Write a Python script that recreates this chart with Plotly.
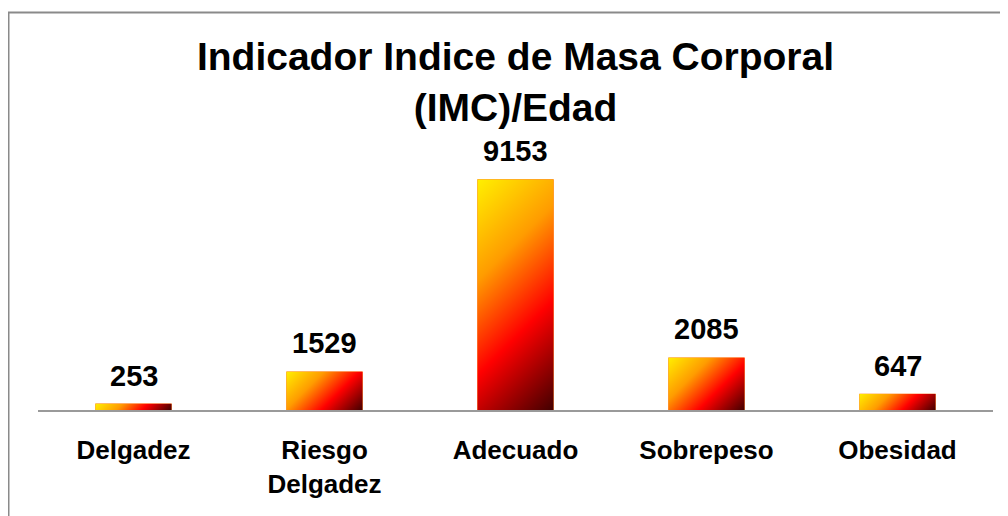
import base64
import plotly.graph_objects as go

categories = ["Delgadez", "Riesgo<br>Delgadez", "Adecuado", "Sobrepeso", "Obesidad"]
values = [253, 1529, 9153, 2085, 647]
value_labels = [str(v) for v in values]

# page offset (the browser page adds an 8px body margin)
OFF = 8
W, H = 1008, 516
PLOT_L, PLOT_T, PLOT_W, PLOT_H = 38, 158, 955, 252
ML = PLOT_L - OFF
MT = PLOT_T - OFF
MR = W - ML - PLOT_W
MB = H - MT - PLOT_H
BAR_W = 0.4
Y_MAX = 10000
FONT = "Arial, Liberation Sans, sans-serif"

STOPS = [(0.0, "#FFF000"), (0.33, "#FF9C00"), (0.64, "#FF0000"), (1.0, "#420000")]


def gradient_src(wpx, hpx):
    # 45-degree linear gradient in real pixel space, spanning the box corner to corner
    e = (wpx + hpx) / 2.0
    stops = "".join(f'<stop offset="{o}" stop-color="{c}"/>' for o, c in STOPS)
    svg = (
        f'<svg xmlns="http://www.w3.org/2000/svg" width="{wpx:.2f}" height="{hpx:.2f}" '
        f'viewBox="0 0 {wpx:.2f} {hpx:.2f}" preserveAspectRatio="none">'
        f'<defs><linearGradient id="g" gradientUnits="userSpaceOnUse" '
        f'x1="0" y1="0" x2="{e:.2f}" y2="{e:.2f}">{stops}</linearGradient></defs>'
        f'<rect x="0" y="0" width="{wpx:.2f}" height="{hpx:.2f}" fill="url(#g)"/></svg>'
    )
    return "data:image/svg+xml;base64," + base64.b64encode(svg.encode()).decode()


xs = list(range(len(values)))

fig = go.Figure(
    go.Bar(
        x=xs,
        y=values,
        width=BAR_W,
        marker=dict(color="#FF6A00", line=dict(width=0)),
        hoverinfo="x+y",
    )
)

bar_px_w = BAR_W * PLOT_W / len(values)
images = []
annotations = []
for i, v in enumerate(values):
    bar_px_h = v * PLOT_H / Y_MAX
    images.append(
        dict(
            source=gradient_src(bar_px_w, bar_px_h), xref="x", yref="y",
            x=i - BAR_W / 2, y=v, sizex=BAR_W, sizey=v,
            xanchor="left", yanchor="top", sizing="stretch", layer="above",
        )
    )
    annotations.append(
        dict(
            x=i, y=v, xref="x", yref="y", text=value_labels[i],
            showarrow=False, yanchor="bottom", yshift=10,
            font=dict(family=FONT, size=29, color="#000000", weight="bold"),
        )
    )

bx0 = (8.5 - PLOT_L) / PLOT_W
by0 = (PLOT_T + PLOT_H - 12.5) / PLOT_H

fig.update_layout(
    width=W, height=H,
    margin=dict(l=ML, r=MR, t=MT, b=MB),
    paper_bgcolor="white", plot_bgcolor="white",
    showlegend=False,
    title=dict(
        text="Indicador Indice de Masa Corporal<br>(IMC)/Edad",
        x=0.5, xref="paper", xanchor="center",
        y=1 - 62 / H, yref="container", yanchor="top",
        font=dict(family=FONT, size=39, color="#000000", weight="bold"),
    ),
    xaxis=dict(
        range=[-0.5, len(values) - 0.5],
        tickvals=xs, ticktext=categories,
        showline=True, linecolor="#9a9a9a", linewidth=2,
        showgrid=False, zeroline=False, ticks="",
        ticklabelstandoff=16,
        tickfont=dict(family=FONT, size=26, color="#000000", weight="bold"),
        fixedrange=True,
    ),
    yaxis=dict(range=[0, Y_MAX], visible=False, showgrid=False, zeroline=False),
    images=images,
    annotations=annotations,
    shapes=[
        dict(type="rect", xref="paper", yref="paper",
             x0=bx0, y0=by0, x1=1.2, y1=-1.0,
             line=dict(color="#8a8a8a", width=2), fillcolor="rgba(0,0,0,0)",
             layer="above"),
    ],
)

fig.write_html("out.html")
